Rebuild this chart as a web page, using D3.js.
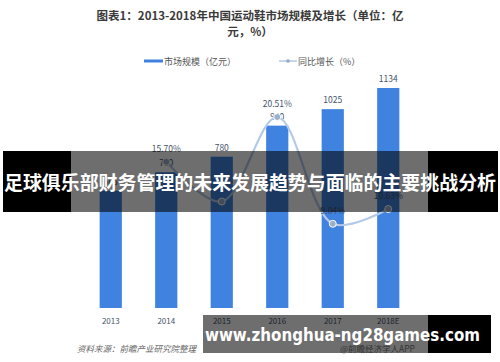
<!DOCTYPE html>
<html><head><meta charset="utf-8">
<script src="https://cdn.jsdelivr.net/npm/d3@7"></script>
<style>body{margin:0;background:#fff}svg{display:block}</style>
</head><body>
<script>
const years = ["2013","2014","2015","2016","2017","2018E"];
const marketSize = [605, 700, 780, 940, 1025, 1134];
const growthYears = ["2014","2015","2016","2017","2018E"];
const growth = [15.70, 11.43, 20.51, 9.04, 10.63];
const growthLabels = ["15.70%", "", "20.51%", "9.04%", "10.63%"];

const W = 500, H = 362;
const svg = d3.select("body").append("svg").attr("width", W).attr("height", H);
const FONT = "'Noto Sans CJK SC', 'Noto Sans', sans-serif";

// Title
svg.append("text").attr("x", 250).attr("y", 20).attr("text-anchor", "middle")
  .attr("font-family", FONT).attr("font-weight", "bold").attr("font-size", 11.5).attr("fill", "#3a3a3a")
  .text("图表1：2013-2018年中国运动鞋市场规模及增长（单位：亿");
svg.append("text").attr("x", 250).attr("y", 36).attr("text-anchor", "middle")
  .attr("font-family", FONT).attr("font-weight", "bold").attr("font-size", 11.5).attr("fill", "#3a3a3a")
  .text("元，%）");

// Legend
svg.append("rect").attr("x", 144).attr("y", 59.5).attr("width", 19).attr("height", 3).attr("fill", "#3f82e0");
svg.append("text").attr("x", 164).attr("y", 64.5).attr("font-family", FONT).attr("font-size", 9).attr("fill", "#555").text("市场规模（亿元）");
svg.append("line").attr("x1", 279).attr("x2", 297).attr("y1", 61).attr("y2", 61).attr("stroke", "#b3c9e8").attr("stroke-width", 1.5);
svg.append("circle").attr("cx", 288).attr("cy", 61).attr("r", 1.8).attr("fill", "#90a8c8");
svg.append("text").attr("x", 298).attr("y", 64.5).attr("font-family", FONT).attr("font-size", 9).attr("fill", "#555").text("同比增长（%）");

// Scales
const x = d3.scaleBand().domain(years).range([83, 416]).paddingInner(0.6).paddingOuter(0.3);
const y = d3.scaleLinear().domain([0, 1134]).range([308, 88]);
const y2 = d3.scaleLinear().domain([0, 20.51]).range([308, 117]);

// Bars
svg.append("g").selectAll("rect").data(years).join("rect")
  .attr("x", d => x(d)).attr("width", x.bandwidth())
  .attr("y", (d, i) => y(marketSize[i])).attr("height", (d, i) => y(0) - y(marketSize[i]))
  .attr("fill", "#3f82e0");

// Bar value labels
svg.append("g").selectAll("text").data(years).join("text")
  .attr("x", d => x(d) + x.bandwidth() / 2).attr("y", (d, i) => y(marketSize[i]) - 6)
  .attr("text-anchor", "middle").attr("font-family", FONT).attr("font-size", 8.5).attr("fill", "#44546a")
  .text((d, i) => marketSize[i]);

// X axis labels
const xAxis = d3.axisBottom(x).tickSize(0).tickPadding(10);
const ax = svg.append("g").attr("transform", "translate(0,308)").call(xAxis);
ax.select(".domain").remove();
ax.selectAll("text").attr("font-family", FONT).attr("font-size", 8).attr("fill", "#44546a");

// Growth line
const cx = d => x(d) + x.bandwidth() / 2;
const line = d3.line().x((d, i) => cx(growthYears[i])).y(d => y2(d)).curve(d3.curveCatmullRom.alpha(0.5));
svg.append("path").datum(growth).attr("d", line).attr("fill", "none")
  .attr("stroke", "#b3c9e8").attr("stroke-width", 2.2);
svg.append("g").selectAll("circle").data(growth).join("circle")
  .attr("cx", (d, i) => cx(growthYears[i])).attr("cy", d => y2(d)).attr("r", 3.5)
  .attr("fill", "#9ab0cc").attr("stroke", "#fff").attr("stroke-width", 1);
svg.append("g").selectAll("text").data(growth).join("text")
  .attr("x", (d, i) => cx(growthYears[i])).attr("y", d => y2(d) - 10)
  .attr("text-anchor", "middle").attr("font-family", FONT).attr("font-size", 8.5).attr("fill", "#44546a")
  .text((d, i) => growthLabels[i]);

// Source
svg.append("text").attr("x", 77).attr("y", 352).attr("font-family", FONT).attr("font-size", 8.5)
  .attr("font-style", "italic").attr("fill", "#666").text("资料来源：前瞻产业研究院整理");
svg.append("text").attr("x", 340).attr("y", 352).attr("font-family", FONT).attr("font-size", 8.5)
  .attr("fill", "#777").text("@前瞻经济学人APP");

// Banner 1
svg.append("rect").attr("x", 3).attr("y", 151).attr("width", 68).attr("height", 61).attr("fill", "#000");
svg.append("rect").attr("x", 71).attr("y", 151).attr("width", 357).attr("height", 61).attr("fill", "rgba(0,0,0,0.57)");
svg.append("rect").attr("x", 428).attr("y", 151).attr("width", 70).attr("height", 61).attr("fill", "#000");
svg.append("text").attr("x", 250).attr("y", 190).attr("text-anchor", "middle")
  .attr("font-family", FONT).attr("font-weight", "bold").attr("font-size", 19).attr("fill", "#fff")
  .attr("textLength", 492).attr("lengthAdjust", "spacingAndGlyphs")
  .text("足球俱乐部财务管理的未来发展趋势与面临的主要挑战分析");

// Banner 2
svg.append("rect").attr("x", 203).attr("y", 315).attr("width", 225).attr("height", 38).attr("fill", "rgba(0,0,0,0.57)");
svg.append("rect").attr("x", 428).attr("y", 315).attr("width", 63).attr("height", 38).attr("fill", "#000");
svg.append("text").attr("x", 205).attr("y", 341).attr("font-family", "'DejaVu Sans', sans-serif")
  .attr("font-weight", "bold").attr("font-size", 17).attr("fill", "#fff")
  .attr("textLength", 275).attr("lengthAdjust", "spacingAndGlyphs")
  .text("www.zhonghua-ng28games.com");
</script>
</body></html>
